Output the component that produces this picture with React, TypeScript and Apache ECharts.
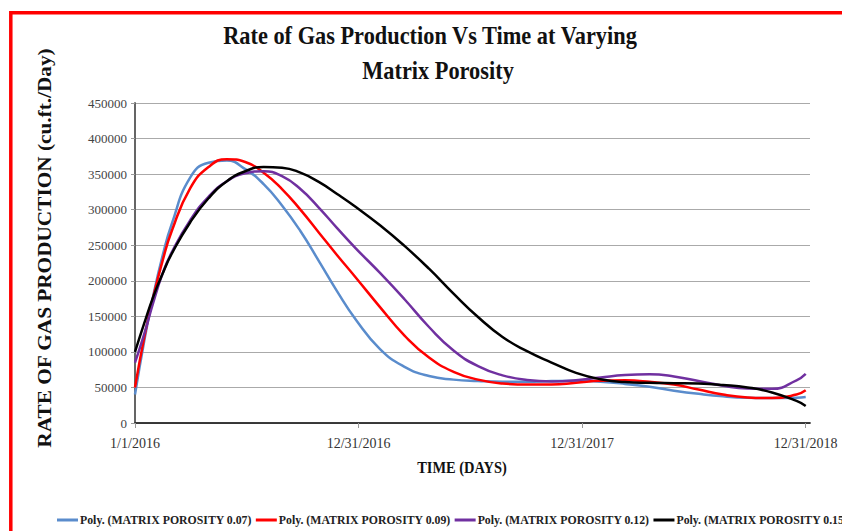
import React, { useEffect, useRef } from "react";
import * as echarts from "echarts";

const days = [0, 15, 30, 45, 60, 90, 120, 150, 180, 210, 240, 270, 300, 330, 360, 400, 440, 480, 520, 560, 600, 640, 680, 720, 760, 800, 840, 880, 920, 960, 1000, 1040, 1080, 1095];

const porosity007 = [40000, 115000, 180000, 235000, 280000, 345000, 366000, 369000, 357000, 336000, 306000, 270000, 228000, 185000, 146000, 104000, 79000, 66000, 61000, 59000, 58000, 58000, 59000, 59500, 58000, 55000, 51000, 45500, 41000, 37500, 35500, 35000, 35500, 36500];
const porosity009 = [50000, 120000, 178000, 228000, 270000, 330000, 360000, 371000, 367000, 352000, 329000, 300000, 268000, 236000, 205000, 163000, 123000, 92000, 72000, 61000, 55500, 54000, 54000, 56500, 59500, 60000, 58000, 54000, 47000, 40000, 36000, 35000, 40000, 46000];
const porosity012 = [85000, 125000, 170000, 210000, 240000, 285000, 318000, 340000, 351000, 354000, 347000, 329000, 303000, 274000, 246000, 211000, 174000, 135000, 102000, 80000, 67000, 60500, 58500, 60000, 64000, 67500, 68500, 65500, 59000, 52500, 48500, 48000, 60000, 69000];
const porosity015 = [100000, 140000, 178000, 210000, 238000, 282000, 316000, 340000, 354000, 360000, 359000, 352000, 339000, 322000, 304000, 278000, 249000, 217000, 182000, 149000, 121000, 101000, 85000, 70500, 61500, 57500, 56500, 56000, 55500, 53500, 50000, 43000, 31000, 24000];

const seriesNames = [
  "Poly. (MATRIX POROSITY 0.07)",
  "Poly. (MATRIX POROSITY 0.09)",
  "Poly. (MATRIX POROSITY 0.12)",
  "Poly. (MATRIX POROSITY 0.15)",
];
const seriesColors = ["#5a8ccc", "#ff0000", "#7030a0", "#000000"];
const seriesValues = [porosity007, porosity009, porosity012, porosity015];

const xTickDays = [0, 365, 730, 1095];
const xTickLabels = ["1/1/2016", "12/31/2016", "12/31/2017", "12/31/2018"];

const FONT = "Liberation Serif";

export default function App() {
  const ref = useRef<HTMLDivElement>(null);
  useEffect(() => {
    if (!ref.current) return;
    const chart = echarts.init(ref.current, null, { renderer: "svg" });
    chart.setOption({
      animation: false,
      backgroundColor: "#ffffff",
      grid: { left: 135, top: 103, right: 32, bottom: 108 },
      legend: {
        left: 52,
        top: 509,
        width: 1200,
        icon: "rect",
        itemWidth: 21,
        itemHeight: 3,
        itemGap: 4,
        textStyle: { fontFamily: FONT, fontSize: 11.8, fontWeight: "bold", color: "#222", padding: [0, 0, 0, -3] },
        data: seriesNames,
      },
      xAxis: [
        {
          type: "value",
          min: 0,
          max: 1102,
          axisLine: { show: true, lineStyle: { color: "#666", width: 1.5 } },
          axisTick: { show: true, length: 5, lineStyle: { color: "#999" }, customValues: xTickDays },
          splitLine: { show: false },
          axisLabel: {
            customValues: xTickDays,
            fontFamily: FONT,
            fontSize: 14,
            color: "#333",
            margin: 13,
            formatter: (v: number) => {
              const i = xTickDays.indexOf(v);
              return i >= 0 ? xTickLabels[i] : "";
            },
          },
        },
        {
          type: "value",
          position: "top",
          min: 0,
          max: 1102,
          axisLine: { show: true, lineStyle: { color: "#222", width: 1.5 } },
          axisTick: { show: false },
          axisLabel: { show: false },
          splitLine: { show: false },
        },
      ],
      yAxis: [
        {
          type: "value",
          min: 0,
          max: 450000,
          interval: 50000,
          axisLine: { show: true, lineStyle: { color: "#999", width: 2 } },
          axisTick: { show: true, length: 4, lineStyle: { color: "#999" } },
          splitLine: { show: true, lineStyle: { color: "#aaa", width: 1.2 } },
          axisLabel: {
            fontFamily: FONT,
            fontSize: 13,
            color: "#444",
            margin: 8,
            formatter: (v: number) => String(v),
          },
        },
        {
          type: "value",
          position: "right",
          min: 0,
          max: 450000,
          axisLine: { show: true, lineStyle: { color: "#555", width: 1.5 } },
          axisTick: { show: false },
          axisLabel: { show: false },
          splitLine: { show: false },
        },
      ],
      series: seriesNames.map((name, k) => ({
        name,
        type: "line",
        smooth: true,
        showSymbol: false,
        color: seriesColors[k],
        lineStyle: { width: 2.5, color: seriesColors[k] },
        data: days.map((d, i) => [d, seriesValues[k][i]]),
      })),
      graphic: [
        {
          type: "rect",
          shape: { x: 10.8, y: 12.7, width: 1000, height: 1000 },
          style: { fill: "none", stroke: "#ff0000", lineWidth: 3.5 },
          silent: true,
        },
        {
          type: "text",
          x: 430,
          y: 35,
          scaleX: 0.86,
          style: {
            text: "Rate of Gas Production Vs Time at Varying",
            fontFamily: FONT,
            fontSize: 26,
            fontWeight: "bold",
            fill: "#111",
            align: "center",
            verticalAlign: "middle",
          },
        },
        {
          type: "text",
          x: 438,
          y: 70,
          scaleX: 0.86,
          style: {
            text: "Matrix Porosity",
            fontFamily: FONT,
            fontSize: 26,
            fontWeight: "bold",
            fill: "#111",
            align: "center",
            verticalAlign: "middle",
          },
        },
        {
          type: "text",
          x: 462,
          y: 467,
          scaleX: 0.85,
          style: {
            text: "TIME (DAYS)",
            fontFamily: FONT,
            fontSize: 17,
            fontWeight: "bold",
            fill: "#111",
            align: "center",
            verticalAlign: "middle",
          },
        },
        {
          type: "text",
          x: 44,
          y: 248,
          rotation: Math.PI / 2,
          scaleX: 1.12,
          style: {
            text: "RATE OF GAS PRODUCTION (cu.ft./Day)",
            fontFamily: FONT,
            fontSize: 19,
            fontWeight: "bold",
            fill: "#111",
            align: "center",
            verticalAlign: "middle",
          },
        },
      ],
    });
    return () => chart.dispose();
  }, []);
  return (
    <div
      ref={ref}
      style={{ position: "fixed", left: 0, top: 0, width: 842, height: 531 }}
    />
  );
}
